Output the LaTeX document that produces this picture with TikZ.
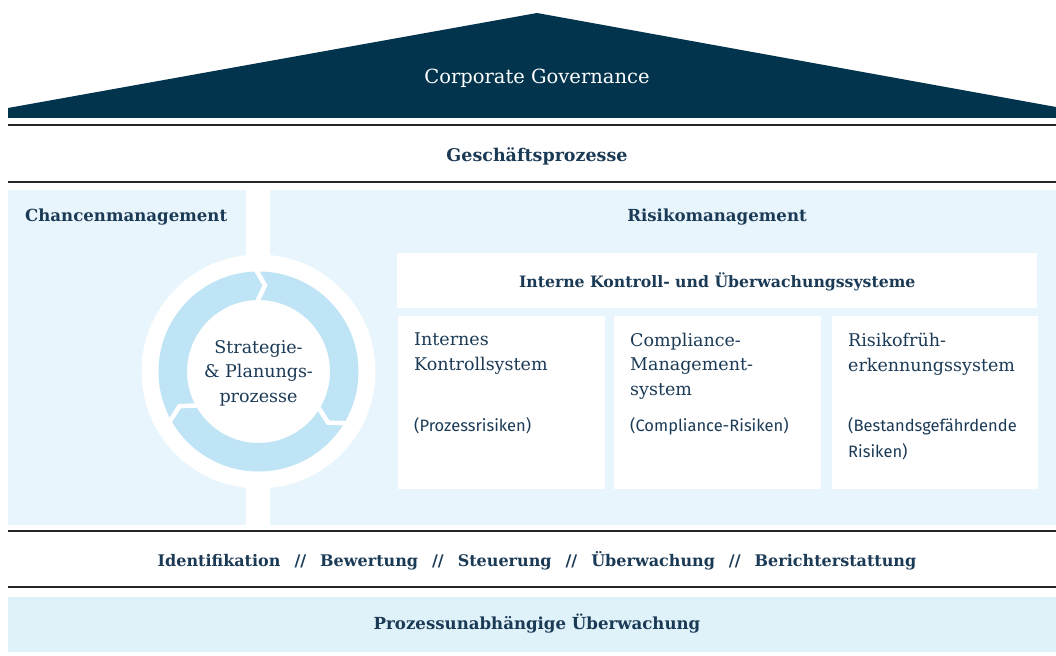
\documentclass[tikz,border=0pt]{standalone}
\usepackage{fontspec}
\usetikzlibrary{calc}
\setmainfont{DejaVu Serif}
\newfontfamily\subfont{Fira Sans}
\definecolor{navy}{HTML}{02344D}
\definecolor{ink}{HTML}{1B3A56}
\definecolor{panel}{HTML}{E8F5FC}
\definecolor{ringc}{HTML}{BEE4F6}
\definecolor{bottombox}{HTML}{DFF1F9}
\tikzset{
  rule/.style={draw=black!85, line width=1.2pt},
  head/.style={font=\bfseries\fontsize{16.6}{20}\selectfont, text=ink, inner sep=0pt},
  boxtitle/.style={font=\fontsize{17.5}{24.5}\selectfont, text=ink, align=left, inner sep=0pt, anchor=north west},
  boxsub/.style={font=\subfont\fontsize{16.5}{26}\selectfont, text=ink, align=left, inner sep=0pt, anchor=north west},
  whitebox/.style={fill=white, draw=none, inner sep=0pt, anchor=north west},
  chevron/.style={draw=white, line width=4.5pt, line join=miter},
}
\begin{document}
\begin{tikzpicture}[x=1pt,y=-1pt]
\useasboundingbox (0,0) rectangle (1056,655);
% roof
\fill[navy] (8,108) -- (537,13) -- (1056,107) -- (1056,118) -- (8,118) -- cycle;
\node[font=\fontsize{19.5}{22}\selectfont, text=white, inner sep=0pt] (cg) at (537,78.5) {Corporate Governance};
\draw[rule] (8,125) -- (1056,125);
\node[head, font=\bfseries\fontsize{17.5}{20}\selectfont] (gp) at (537,156) {Geschäftsprozesse};
\draw[rule] (8,182) -- (1056,182);
% panels
\fill[panel] (8,190) rectangle (246,525);
\fill[panel] (270,190) rectangle (1056,525);
\node[head, anchor=west] (cm) at (25,217.5) {Chancenmanagement};
\node[head] (rm) at (717,217.5) {Risikomanagement};
% cycle
\coordinate (c) at (258.5,371.5);
\fill[white] (c) circle[radius=117];
\fill[ringc, even odd rule] (c) circle[radius=100] (c) circle[radius=71.5];
\foreach \a in {-91,31,151} {
  \draw[chevron] ($(c)+(\a:104)+(\a+90:-2)$) -- ($(c)+(\a:86)+(\a+90:8)$) -- ($(c)+(\a:68)+(\a+90:-1)$);
}
\node[font=\fontsize{17.5}{24.5}\selectfont, text=ink, align=center, inner sep=0pt] (sp) at ($(c)+(0,1.5)$) {Strategie-\\\& Planungs-\\prozesse};
% control systems
\node[whitebox, minimum width=640, minimum height=55] (iks) at (397,253) {};
\node[head, font=\bfseries\fontsize{15.7}{20}\selectfont] (iksl) at ($(iks.center)+(0,1.5)$) {Interne Kontroll- und Überwachungssysteme};
\node[whitebox, minimum width=207, minimum height=173] (b1) at (397.5,315.5) {};
\node[whitebox, minimum width=207, minimum height=173] (b2) at (614,315.5) {};
\node[whitebox, minimum width=206, minimum height=173] (b3) at (832,315.5) {};
\node[boxtitle] (t1) at (414,333) {Internes\\Kontrollsystem};
\node[boxtitle] (t2) at (630,333) {Compliance-\\Management-\\system};
\node[boxtitle] (t3) at (848,333) {Risikofrüh-\\erkennungssystem};
\node[boxsub] (s1) at (414,417) {(Prozessrisiken)};
\node[boxsub] (s2) at (630,417) {(Compliance-Risiken)};
\node[boxsub] (s3) at (848,417) {(Bestandsgefährdende\\Risiken)};
% bottom
\draw[rule] (8,531) -- (1056,531);
\node[head, font=\bfseries\fontsize{16}{20}\selectfont] (steps) at (537,561) {Identifikation\hspace{14pt}//\hspace{14pt}Bewertung\hspace{14pt}//\hspace{14pt}Steuerung\hspace{14pt}//\hspace{14pt}Überwachung\hspace{14pt}//\hspace{14pt}Berichterstattung};
\draw[rule] (8,587) -- (1056,587);
\fill[bottombox] (8,597) rectangle (1056,652);
\node[head] (pu) at (537,624) {Prozessunabhängige Überwachung};
\end{tikzpicture}
\end{document}
